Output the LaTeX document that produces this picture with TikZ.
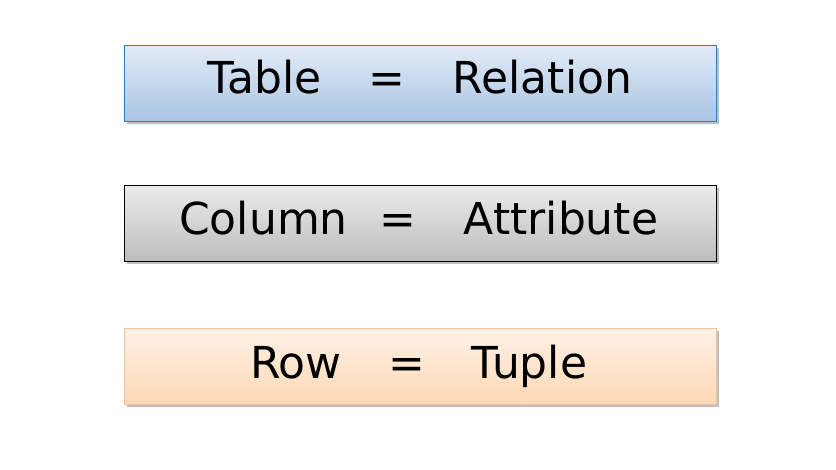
\documentclass[tikz,border=0pt]{standalone}
\usepackage{fontspec}
\setmainfont{DejaVu Sans}
\usetikzlibrary{shadows}
\definecolor{blueTop}{HTML}{E2EBF7}
\definecolor{blueBot}{HTML}{A9C4E3}
\definecolor{blueLine}{HTML}{3A78B2}
\definecolor{grayTop}{HTML}{EBEBEB}
\definecolor{grayBot}{HTML}{BDBDBD}
\definecolor{orTop}{HTML}{FEF1E6}
\definecolor{orBot}{HTML}{FDD8B4}
\definecolor{orLine}{HTML}{F7C39C}
\tikzset{
  termbox/.style={draw, line width=1pt, minimum width=592pt, minimum height=76pt,
    inner sep=0pt, anchor=north west,
    drop shadow={shadow xshift=2pt, shadow yshift=-2.5pt, opacity=0.25, fill=black}},
  word/.style={anchor=base, inner sep=0pt, font=\fontsize{44}{50}\selectfont, text=black}
}
\begin{document}
\begin{tikzpicture}[x=1pt, y=-1pt]
  \useasboundingbox (0,0) rectangle (836,469);
  % equivalence boxes
  \node[termbox, draw=blueLine, top color=blueTop, bottom color=blueBot] (rel) at (124,45) {};
  \node[termbox, draw=black, top color=grayTop, bottom color=grayBot] (att) at (124,185) {};
  \node[termbox, draw=orLine, top color=orTop, bottom color=orBot] (tup) at (124,328) {};
  % words
  \node[word] (w11) at (264.5,93.3) {Table};
  \node[word] (w12) at (386.5,93.3) {=};
  \node[word] (w13) at (542.5,93.3) {Relation};
  \node[word] (w21) at (263.5,234) {Column};
  \node[word] (w22) at (397.5,234) {=};
  \node[word] (w23) at (561,234) {Attribute};
  \node[word] (w31) at (296,378) {Row};
  \node[word] (w32) at (406.5,378) {=};
  \node[word] (w33) at (529.5,378) {Tuple};
\end{tikzpicture}
\end{document}
